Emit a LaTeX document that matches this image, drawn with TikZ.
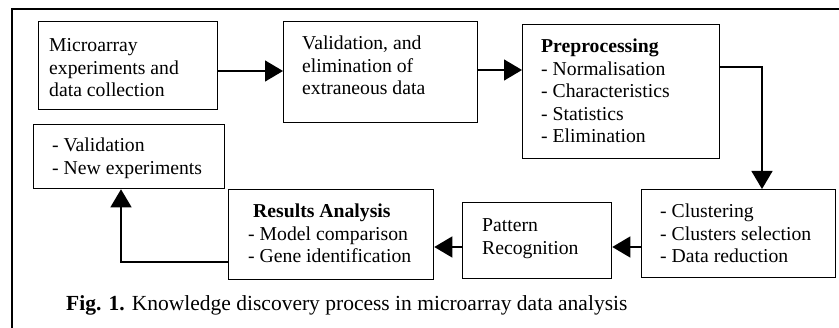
\documentclass[tikz,border=0pt]{standalone}
\usepackage{fontspec}
\setmainfont{Liberation Serif}
\usetikzlibrary{arrows.meta}
\begin{document}
\begin{tikzpicture}[x=1pt,y=-1pt,
  box/.style={draw=black, line width=1.3pt, rectangle, inner sep=0pt, anchor=north west},
  txt/.style={anchor=base west, inner sep=0pt, font=\fontsize{19.7}{22.5}\selectfont},
  conn/.style={line width=1.3pt, -{Triangle[length=18pt,width=21pt]}},
  frame/.style={line width=1.8pt}]
\useasboundingbox (0,0) rectangle (839,328);
% outer frame (top and left only visible)
\coordinate (fl) at (12,328);
\coordinate (ftl) at (12,9);
\coordinate (ftr) at (839,9);
\draw[frame] (fl) -- (ftl) -- (ftr);
% boxes
\node[box, minimum width=179pt, minimum height=88pt] (b1) at (38,21) {};
\node[box, minimum width=194pt, minimum height=101pt] (b2) at (283,21) {};
\node[box, minimum width=197pt, minimum height=134pt] (b3) at (522,24) {};
\node[box, minimum width=191pt, minimum height=64pt] (val) at (33,124) {};
\node[box, minimum width=205pt, minimum height=90pt] (res) at (228,189) {};
\node[box, minimum width=149pt, minimum height=76pt] (pat) at (462,202) {};
\node[box, minimum width=194pt, minimum height=88pt] (clu) at (641,189) {};
% texts
\node[txt] (b1t) at (49,52) {\begin{tabular}[t]{@{}l@{}}Microarray\\experiments and\\data collection\end{tabular}};
\node[txt] (b2t) at (302,50) {\begin{tabular}[t]{@{}l@{}}Validation, and\\elimination of\\extraneous data\end{tabular}};
\node[txt] (b3t) at (541,53) {\begin{tabular}[t]{@{}l@{}}\textbf{Preprocessing}\\- Normalisation\\- Characteristics\\- Statistics\\- Elimination\end{tabular}};
\node[txt] (valt) at (52,152) {\begin{tabular}[t]{@{}l@{}}- Validation\\- New experiments\end{tabular}};
\node[txt] (rest) at (248,218) {\begin{tabular}[t]{@{}l@{}}\hspace{5pt}\textbf{Results Analysis}\\- Model comparison\\- Gene identification\end{tabular}};
\node[txt] (patt) at (482,232) {\begin{tabular}[t]{@{}l@{}}Pattern\\Recognition\end{tabular}};
\node[txt] (clut) at (660,218) {\begin{tabular}[t]{@{}l@{}}- Clustering\\- Clusters selection\\- Data reduction\end{tabular}};
% caption
\node[anchor=base west, inner sep=0pt, font=\fontsize{21.5}{24}\selectfont] (cap) at (66,311) {\textbf{Fig. 1.} Knowledge discovery process in microarray data analysis};
% connectors
\draw[conn] (b1.east |- 0,71) -- (b2.west |- 0,71);
\draw[conn] (b2.east |- 0,70) -- (b3.west |- 0,70);
\coordinate (k1) at (762,67);
\draw[conn] (b3.east |- k1) -- (k1) -- (k1 |- clu.north);
\draw[conn] (clu.west |- 0,247) -- (pat.east |- 0,247);
\draw[conn] (pat.west |- 0,247) -- (res.east |- 0,247);
\coordinate (k2) at (121,262);
\draw[conn] (res.west |- k2) -- (k2) -- (k2 |- val.south);
\end{tikzpicture}
\end{document}
